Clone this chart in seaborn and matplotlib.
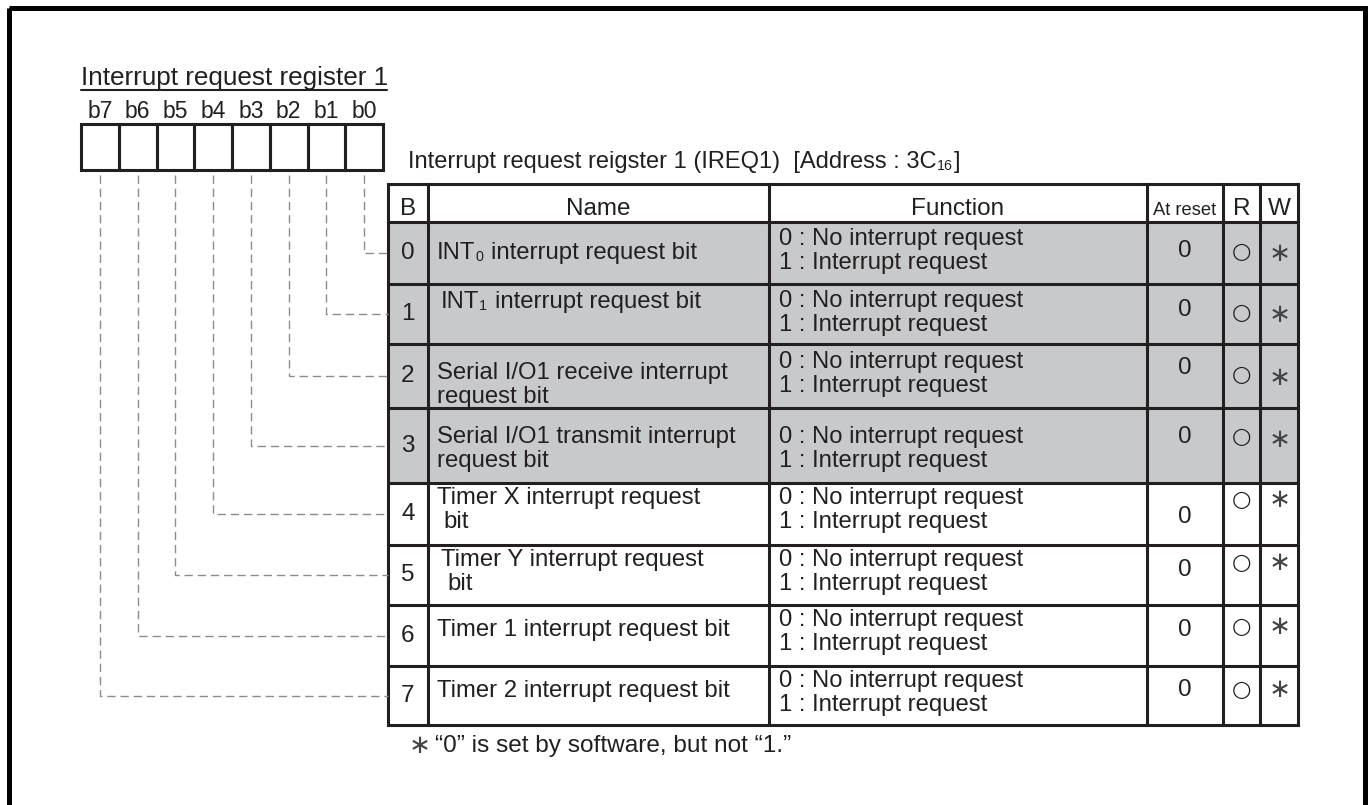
import matplotlib
matplotlib.use("Agg")
import matplotlib.pyplot as plt
from matplotlib.patches import Rectangle
import seaborn as sns

# register content ("_x" marks a subscript run)
bits = [0, 1, 2, 3, 4, 5, 6, 7]
names = [
    "INT_0 interrupt request bit",
    "INT_1 interrupt request bit",
    "Serial I/O1 receive interrupt\nrequest bit",
    "Serial I/O1 transmit interrupt\nrequest bit",
    "Timer X interrupt request\n bit",
    "Timer Y interrupt request\n bit",
    "Timer 1 interrupt request bit",
    "Timer 2 interrupt request bit",
]
functions = ["0 : No interrupt request\n1 : Interrupt request"] * 8
at_reset = ["0"] * 8
r_marks = ["○"] * 8
w_marks = ["∗"] * 8
bit_labels = ["b7", "b6", "b5", "b4", "b3", "b2", "b1", "b0"]
headers = ["B", "Name", "Function", "At reset", "R", "W"]
title = "Interrupt request register 1"
caption = ["Interrupt request reigster 1 (IREQ1)  [Address : 3C", "16", "]"]
footnote = "“0” is set by software, but not “1.”"

sns.set_theme(style="white")
plt.rcParams["font.family"] = ["Liberation Sans", "DejaVu Sans"]
plt.rcParams["lines.scale_dashes"] = False

ink = "#231f20"
grey = "#c8c9cb"
dash = "#8c8c8c"
sym_font = ["DejaVu Sans", "Liberation Sans"]

fig = plt.figure(figsize=(13.69, 8.05), dpi=100)
ax = fig.add_axes([0, 0, 1, 1])
ax.set_xlim(0, 1369)
ax.set_ylim(805, 0)
ax.axis("off")
renderer = fig.canvas.get_renderer()


def width(s, size):
    t = ax.text(0, 0, s, fontsize=size)
    w = t.get_window_extent(renderer).width
    t.remove()
    return w


def adv(s, size):
    return width("|" + s + "|", size) - width("||", size)


def runs(x, y, parts, size, sub=0.6):
    # parts alternate normal / subscript text, drawn on one baseline
    for k, s in enumerate(parts):
        if not s:
            continue
        fs = size * sub if k % 2 else size
        dy = 2 if k % 2 else 0
        n = len(s) - len(s.lstrip(" "))
        lead = adv(" " * n, fs) if n else 0
        ax.text(x + lead, y + dy, s.lstrip(" "), fontsize=fs, color=ink, va="baseline")
        x += adv(s, fs) + (1 if k % 2 else 0)


def split_sub(s):
    if "_" not in s:
        return [s]
    head, tail = s.split("_", 1)
    return [head, tail[0], tail[1:]]


# outer frame (bottom edge runs off the picture)
ax.add_patch(Rectangle((8.5, 8.5), 1356, 820, fill=False, ec="black", lw=3.6))

# register boxes
bx0, bw, by0, by1 = 81, 37.75, 124, 170
ax.text(bx0, 85, title, fontsize=18.8, color=ink, va="baseline")
ax.plot([bx0, 387], [90, 90], color=ink, lw=1.5)
for k, lab in enumerate(bit_labels):
    cx = bx0 + bw * (k + 0.5)
    ax.text(cx, 118, lab, fontsize=16.5, color=ink, ha="center", va="baseline")
    ax.add_patch(Rectangle((bx0 + bw * k, by0), bw, by1 - by0, fill=False, ec=ink, lw=2.2))

runs(408, 168, caption, 17.0)

# table geometry
cols = [388, 428, 769, 1147, 1223, 1260, 1298]
rows = [184, 222, 284, 344, 408, 483, 545, 605, 666, 725]

for i in range(4):
    ax.add_patch(Rectangle((cols[0], rows[i + 1]), cols[-1] - cols[0],
                           rows[i + 2] - rows[i + 1], fc=grey, ec="none"))

for y in rows:
    ax.plot([cols[0], cols[-1]], [y, y], color=ink, lw=2.2, solid_capstyle="projecting")
for x in cols:
    ax.plot([x, x], [rows[0], rows[-1]], color=ink, lw=2.2, solid_capstyle="projecting")

hsize = [17.5, 17.5, 17.5, 13.2, 17.5, 17.5]
for j, h in enumerate(headers):
    ax.text((cols[j] + cols[j + 1]) / 2, 215, h, fontsize=hsize[j], color=ink,
            ha="center", va="baseline")

name_off = [31, 18, 29, 29, 15, 15, 25, 25]
name_x = [437, 441, 437, 437, 437, 441, 437, 437]
fn_off = [17, 17, 18, 29, 15, 15, 15, 15]
reset_off = [29, 26, 24, 29, 34, 25, 25, 24]
r_off = [30, 29, 31, 29, 17, 18, 22, 24]
w_off = [32, 31, 34, 32, 17, 18, 22, 24]
step = 24
body = 17.2

for i, b in enumerate(bits):
    top, bot = rows[i + 1], rows[i + 2]
    mid = (top + bot) / 2
    ax.text((cols[0] + cols[1]) / 2, mid, str(b), fontsize=17.5, color=ink,
            ha="center", va="center")
    for k, line in enumerate(names[i].split("\n")):
        runs(name_x[i], top + name_off[i] + k * step + 6, split_sub(line), body)
    for k, line in enumerate(functions[i].split("\n")):
        ax.text(779, top + fn_off[i] + k * step, line, fontsize=body,
                color=ink, va="center")
    ax.text((cols[3] + cols[4]) / 2, top + reset_off[i], at_reset[i], fontsize=17.5,
            color=ink, ha="center", va="center")
    ax.text((cols[4] + cols[5]) / 2, top + r_off[i], r_marks[i], fontsize=16,
            color=ink, ha="center", va="center", family=sym_font)
    ax.text((cols[5] + cols[6]) / 2 + 1, top + w_off[i], w_marks[i], fontsize=19,
            color="#444444", ha="center", va="center", family=sym_font)

    # dashed connector from register bit to its table row
    cx = bx0 + bw * (7 - b + 0.5)
    ax.plot([cx, cx, cols[0]], [by1 + 5, mid, mid], color=dash, lw=1.0,
            ls=(0, (6, 3.5)))

ax.text(420, 746, "∗", fontsize=19, color="#444444", ha="center", va="center",
        family=sym_font)
ax.text(435, 746, footnote, fontsize=17.6, color=ink, va="center")

fig.savefig("out.png", dpi=100)
